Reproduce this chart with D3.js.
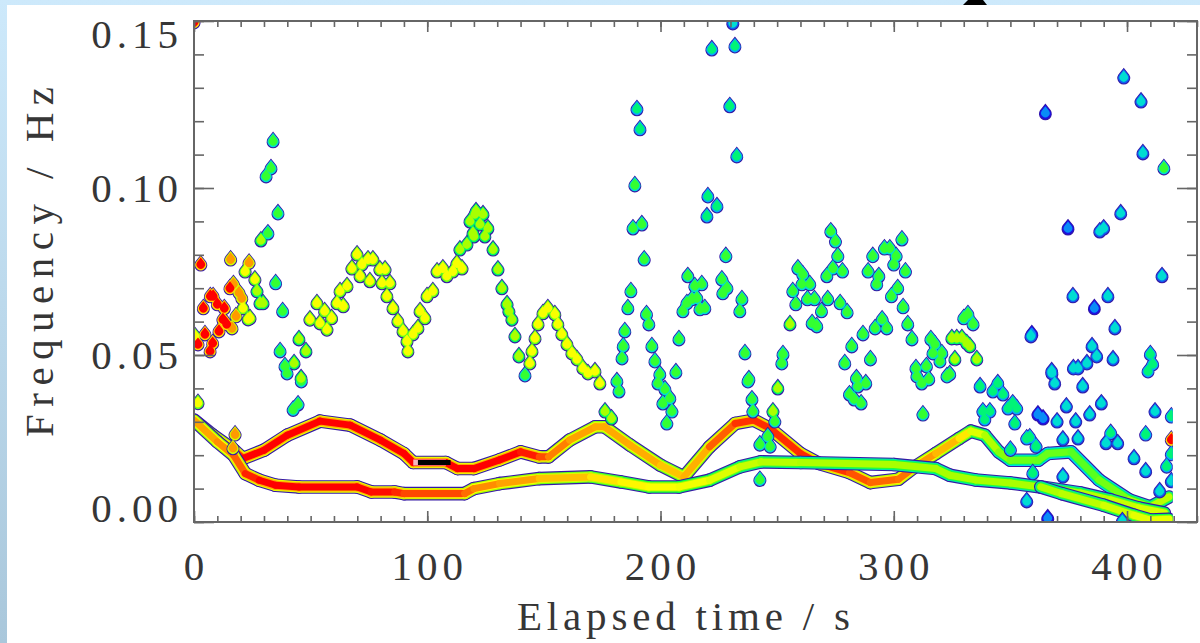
<!DOCTYPE html>
<html>
<head>
<meta charset="utf-8">
<script src="https://cdn.jsdelivr.net/npm/d3@7"></script>
<style>
  body { margin: 0; background: #fff; }
  svg { display: block; }
</style>
</head>
<body>
<svg width="1200" height="643"></svg>
<script>
// axis setup
var xMajor = [0, 100, 200, 300, 400];
var yMajor = [0, 0.05, 0.10, 0.15];
var yLabels = ["0.00", "0.05", "0.10", "0.15"];
var xTitle = "Elapsed time / s";
var yTitle = "Frequency / Hz";
var tEnd = 419.6;

// ridge tracks: [time s, frequency Hz, power 0..1]
var trackA = [[0,0.0305,0.85],[8,0.026,0.88],[17,0.0216,0.93],[21,0.019,1],[30,0.0215,1],[40,0.026,1],
  [54,0.0302,1],[67,0.029,1],[80,0.0245,1],[90,0.0205,1],[94,0.0178,1],[108,0.0178,1],[113,0.016,1],
  [120,0.016,1],[131,0.0186,1],[140,0.021,1],[148,0.0195,0.96],[152,0.0195,0.92],[161,0.0245,0.88],
  [172,0.0285,0.86],[176,0.0285,0.86],[187,0.023,0.86],[200,0.017,0.85],[210,0.0135,0.8],[221,0.0225,0.9],
  [232,0.0295,0.95],[240,0.0305,0.97],[247,0.028,0.96],[260,0.0205,0.97],[268,0.0175,0.97],[281,0.0148,0.95],
  [290,0.0118,0.92],[302,0.0128,0.92],[309,0.0165,0.9],[318,0.0205,0.86],[328,0.025,0.82],[333,0.0272,0.74],
  [339,0.026,0.66],[345,0.021,0.6],[350,0.0185,0.56],[362,0.0185,0.55],[366,0.0205,0.55],[376,0.021,0.55],
  [388,0.0126,0.52],[401,0.0066,0.6],[410,0.0045,0.65],[418,0.0075,0.65]];
var trackB = [[0,0.0305,0.85],[10,0.024,0.88],[17,0.02,0.9],[22,0.0145,0.95],[28,0.0125,1],[35,0.011,1],
  [45,0.0105,1],[70,0.0105,1],[76,0.009,1],[86,0.009,0.98],[90,0.0085,0.96],[116,0.0085,0.93],[120,0.01,0.9],
  [131,0.0115,0.88],[148,0.013,0.86],[170,0.0135,0.8],[183,0.012,0.77],[195,0.0105,0.75],[208,0.0105,0.74],
  [221,0.0125,0.72],[234,0.0165,0.68],[243,0.018,0.65],[260,0.0178,0.63],[300,0.0172,0.62],[318,0.016,0.62],
  [324,0.014,0.62],[335,0.0126,0.62],[350,0.0117,0.62],[363,0.0105,0.62],[380,0.0087,0.63],[393,0.0066,0.65],
  [405,0.0042,0.68],[416,0.0027,0.7]];
var trackC = [[363,0.0105,0.62],[372,0.0085,0.63],[390,0.005,0.66],[403,0.002,0.7],[410,0.0006,0.72],[418,0.0008,0.72]];
var saturated = [[94,0.0178],[108,0.0178]];

// scattered peaks, grouped by power class: [time s, frequency Hz]
var redPts = [[0,0.150],[2.9,0.0775],[7,0.068],[8.2,0.068],[4,0.0644],[10,0.0656],[13,0.0644],[15.4,0.0704],
  [12.4,0.061],[14,0.0596],[10.7,0.0575],[4.7,0.0566],[1.7,0.0536],[8,0.0539],[6.9,0.0515],[419,0.025]];
var orangePts = [[15.7,0.079],[16.9,0.0716],[19.3,0.069],[20.5,0.0674],[16.3,0.0584],[18,0.062],[23.6,0.078],
  [17.6,0.0266],[16.7,0.0225]];
var yellowPts = [[0.4,0.056],[21,0.0644],[21.9,0.0754],[26.1,0.073],[24,0.0614],[23.2,0.0611],[1.7,0.036],
  [52.7,0.0659],[49.7,0.061],[54,0.0599],[56,0.0635],[57,0.058],[59,0.0614],[61.3,0.0659],[62.6,0.0695],
  [64,0.065],[65.6,0.071],[67.7,0.0763],[69.9,0.0805],[72,0.0775],[71.2,0.074],[74.6,0.079],[76.7,0.079],
  [75.4,0.0725],[79.7,0.076],[81.9,0.076],[80.6,0.0719],[84,0.0719],[82.7,0.068],[85.3,0.0644],[87.4,0.0605],
  [89.6,0.0575],[91.3,0.0545],[91.7,0.0515],[93.9,0.0566],[96,0.0584],[96.9,0.0635],[99,0.0614],[99.9,0.068],
  [102.4,0.0695],[104.2,0.0754],[106.7,0.0763],[108.4,0.074],[111,0.0754],[112.7,0.0778],[114.9,0.0763],
  [144,0.0479],[144.9,0.0515],[146.2,0.0554],[147.5,0.0596],[149.6,0.0629],[151.7,0.0644],[154.7,0.0626],
  [156,0.0596],[157.7,0.0566],[159.9,0.0536],[162,0.0509],[164.2,0.0491],[166.7,0.0464],[168.9,0.0449],
  [171.9,0.0455],[174,0.0419]];
var yelGreenPts = [[27,0.0695],[28.3,0.0659],[29.6,0.0659],[28.7,0.0847],[45.9,0.0434],[42.9,0.0479],[45,0.0551],
  [48,0.0515],[114,0.082],[117,0.0835],[118.3,0.0904],[120.4,0.0925],[119.6,0.0868],[120.9,0.0934],[123.9,0.0925],
  [122.6,0.0895],[126,0.0883],[120,0.0859],[124.7,0.0859],[128.2,0.082],[130.3,0.076],[132,0.0704],[134.2,0.0656],
  [135,0.0635],[136.3,0.061],[137.6,0.056],[139.3,0.05],[176.2,0.0335],[179,0.0314],[255.5,0.0596],[250.3,0.0404],
  [248.2,0.0335],[324.9,0.0554],[327,0.0554],[329.2,0.0554],[331.3,0.0539],[332.6,0.053],[326.2,0.0491],[335.6,0.0491]];
var greenPts = [[31.7,0.0868],[36,0.0928],[35,0.0719],[38,0.0635],[36.9,0.0515],[39,0.047],[39.9,0.0449],
  [33.9,0.1144],[33,0.1063],[30.9,0.1039],[42.5,0.034],[44.6,0.0356],[46,0.0425],
  [181.3,0.0425],[182.2,0.0395],[183.5,0.0494],[184,0.053],[184.7,0.0575],[186,0.0644],[187.3,0.0695],[193,0.079],
  [188.2,0.0883],[192,0.0895],[189,0.1012],[194,0.0626],[195,0.0596],[196.3,0.053],[197.6,0.0485],[199.7,0.0446],
  [198.9,0.0419],[201.9,0.0401],[204,0.0374],[201,0.0359],[204.9,0.0335],[202.7,0.0299],[141.9,0.0443],[206.6,0.0452],
  [207.9,0.0551],[209.6,0.0635],[211.3,0.0659],[213.5,0.0671],[215.6,0.0674],[211.7,0.074],[214.7,0.071],
  [217.7,0.0716],[216.9,0.0641],[219,0.0644],[228,0.08],[226.3,0.073],[228.5,0.0704],[226.7,0.0689],[234.9,0.0671],
  [234,0.0635],[236.2,0.0509],[237.9,0.0431],[239.2,0.0371],[239.6,0.0335],[237.5,0.0425],[242.6,0.0236],[246,0.026],
  [247,0.023],[242.6,0.013],[249,0.0305],[252.5,0.0506],[252,0.0479],
  [258.9,0.0763],[256.7,0.0695],[273,0.0874],[275,0.0844],[276,0.08],[273.9,0.0763],[271.3,0.074],[278,0.0754],
  [261,0.0745],[260.6,0.0716],[264,0.0716],[258,0.0656],[263,0.0671],[266,0.0671],[269,0.0635],[271.7,0.0671],
  [277,0.0659],[280,0.0632],[265,0.0599],[267,0.059],[282,0.053],[286.8,0.0566],[279,0.0479],[290,0.0491],
  [292,0.0584],[295,0.061],[297,0.0584],[284,0.0434],[284.6,0.041],[288,0.0419],[281,0.0386],[283,0.0371],
  [286,0.0359],[291,0.08],[296,0.0823],[298.3,0.0823],[301,0.08],[300,0.0775],[303.5,0.085],[289,0.0754],
  [293.6,0.074],[292.7,0.0716],[305,0.0754],[301.7,0.0704],[299,0.068],[304,0.0647],[306,0.0596],[307.8,0.0551],
  [309.5,0.0464],[309.9,0.044],[314,0.047],[315,0.0431],[312,0.0419],[312.5,0.0326],[315.9,0.0551],[317.6,0.0536],
  [316.8,0.0509],[320.6,0.0509],[319.8,0.0485],[322.8,0.044],[324,0.0446],[330,0.0614],[331.8,0.0626],[334,0.0596],
  [415.8,0.1063]];
var cyanGreenPts = [[189.9,0.124],[191.2,0.118],[222,0.1419],[231.9,0.1428],[229.7,0.1249],[232.7,0.1099],
  [220.3,0.0979],[224.2,0.0949],[219.9,0.0919],[337,0.041],[344.6,0.0419],[342.5,0.0395],[346.8,0.0386],
  [351,0.0359],[352.7,0.0344],[349,0.0344],[351.9,0.0299],[338.2,0.0335],[341.2,0.0335],[339,0.0311],[350,0.022],
  [357,0.0254],[358.3,0.0257],[361,0.023],[359.6,0.015],[419,0.0207],[417,0.017],[419,0.032],[393,0.027],
  [408,0.0266],[411,0.0476],[410,0.0506],[409,0.0455]];
var cyanPts = [[231,0.1497],[367.8,0.0449],[369,0.0419],[370,0.0305],[398.6,0.1335],[406,0.1263],[406.8,0.1108],
  [397.3,0.0928],[388.3,0.0874],[390,0.0883],[415,0.074],[376.8,0.068],[391.8,0.068],[394.8,0.0584],[358.8,0.056],
  [385,0.053],[387,0.05],[394,0.0491],[367.7,0.0455],[377,0.0464],[379,0.0464],[382.8,0.0479],[381,0.041],
  [389,0.0359],[374,0.035],[384,0.0326],[412,0.0335],[378,0.0305],[391,0.024],[396,0.024],[379,0.0254],
  [372.5,0.0251],[403,0.0195],[408,0.0156],[372.5,0.014],[357,0.0066],[398,0.0006],[414,0.0096],[419,0.0126]];
var bluePts = [[365,0.1228],[374.7,0.0883],[359.2,0.0566],[386,0.0644],[361.8,0.0326],[364,0.0314],[366,0.0015]];

var groups = [
  { pts: bluePts, p: 0.16 },
  { pts: cyanPts, p: 0.3 },
  { pts: cyanGreenPts, p: 0.4 },
  { pts: greenPts, p: 0.5 },
  { pts: yelGreenPts, p: 0.62 },
  { pts: yellowPts, p: 0.74 },
  { pts: orangePts, p: 0.88 },
  { pts: redPts, p: 1 }
];

var start = function()
{
  var svg = d3.select("svg");
  var x = d3.scaleLinear().domain([0, 430]).range([194, 1197]);
  var y = d3.scaleLinear().domain([0, 0.15]).range([522, 21]);

  var cmap = d3.scaleLinear()
    .domain([0, 0.25, 0.45, 0.6, 0.75, 0.88, 1])
    .range(["#1a10e6", "#00d2ff", "#00ff4a", "#9cff00", "#ffff00", "#ff9a00", "#ff0000"])
    .clamp(true);

  // page background: light blue frame, with the foot of a cut-off heading glyph
  var defs = svg.append("defs");
  var bg = defs.append("linearGradient").attr("id", "bg").attr("x1", 0).attr("y1", 0).attr("x2", 0).attr("y2", 1);
  bg.append("stop").attr("offset", "0").attr("stop-color", "#cde9fb");
  bg.append("stop").attr("offset", "1").attr("stop-color", "#a9c7db");
  svg.append("rect").attr("width", 1200).attr("height", 643).style("fill", "url(#bg)");
  svg.append("path").attr("d", "M968,0 L983,0 L987,5 L963,5 Z").style("fill", "#000");
  svg.append("rect").attr("x", 7).attr("y", 5).attr("width", 1193).attr("height", 638).style("fill", "#fff");

  defs.append("clipPath").attr("id", "plot").append("rect")
    .attr("x", x(0)).attr("y", y(0.15))
    .attr("width", x(tEnd) - x(0)).attr("height", y(0) - y(0.15));

  var plot = svg.append("g").attr("clip-path", "url(#plot)");

  // tracks, drawn in halo layers so overlaps melt together
  var line = d3.line().x(function(d){ return x(d[0]); }).y(function(d){ return y(d[1]); });
  var core = 7;
  [trackA, trackB, trackC].forEach(function(track) {
    var segs = d3.pairs(track);
    [3, 2, 1, 0].forEach(function(k) {
      plot.append("g").selectAll("path").data(segs).enter().append("path")
        .attr("d", function(s){ return line(s); })
        .style("fill", "none")
        .style("stroke", function(s){
          var p = (s[0][2] + s[1][2]) / 2;
          return k == 3 ? "#3518a6" : cmap(p - 0.14 * k);
        })
        .style("stroke-width", core + 2.2 * k)
        .style("stroke-linecap", "round")
        .style("stroke-linejoin", "round");
    });
  });
  plot.append("path").datum(saturated).attr("d", line)
    .style("fill", "none").style("stroke", "#f4b8c0").style("stroke-width", 6);
  plot.append("path").datum(saturated.map(function(d){ return [d[0] + 2, d[1]]; })).attr("d", line)
    .style("fill", "none").style("stroke", "#000").style("stroke-width", 5);

  // drop shaped markers
  var drop = {
    draw: function(ctx, size) {
      var r = Math.sqrt(size / 4);
      ctx.moveTo(0, -1.3 * r);
      ctx.lineTo(r * Math.cos(-0.6), 0.3 * r + r * Math.sin(-0.6));
      ctx.arc(0, 0.3 * r, r, -0.6, Math.PI + 0.6);
      ctx.closePath();
    }
  };
  var layers = [
    { size: 4 * 6.5 * 6.5, color: function(){ return "#3518a6"; } },
    { size: 4 * 5.5 * 5.5, color: function(p){ return cmap(p - 0.2); } },
    { size: 4 * 4.3 * 4.3, color: function(p){ return cmap(p); } }
  ];
  layers.forEach(function(layer) {
    var sym = d3.symbol().type(drop).size(layer.size);
    groups.forEach(function(grp) {
      plot.append("g").selectAll("path").data(grp.pts).enter().append("path")
        .attr("transform", function(d){ return "translate(" + x(d[0]) + "," + y(d[1]) + ")"; })
        .attr("d", sym)
        .style("fill", layer.color(grp.p));
    });
  });

  // frame and ticks
  var axisColor = "#666";
  function style(g) {
    g.select(".domain").remove();
    g.selectAll("line").style("stroke", axisColor).style("stroke-width", 1.6);
  }
  var xMinor = d3.range(0, 431, 10);
  var yMinor = d3.range(0, 0.1501, 0.01);
  svg.append("g").attr("transform", "translate(0," + y(0) + ")")
    .call(d3.axisBottom(x).tickValues(xMinor).tickSize(-6).tickFormat("")).call(style);
  svg.append("g").attr("transform", "translate(0," + y(0) + ")")
    .call(d3.axisBottom(x).tickValues(xMajor).tickSize(-11).tickFormat("")).call(style);
  svg.append("g").attr("transform", "translate(0," + y(0.15) + ")")
    .call(d3.axisTop(x).tickValues(xMinor).tickSize(-6).tickFormat("")).call(style);
  svg.append("g").attr("transform", "translate(0," + y(0.15) + ")")
    .call(d3.axisTop(x).tickValues(xMajor).tickSize(-11).tickFormat("")).call(style);
  svg.append("g").attr("transform", "translate(" + x(0) + ",0)")
    .call(d3.axisLeft(y).tickValues(yMinor).tickSize(-10).tickFormat("")).call(style);
  svg.append("g").attr("transform", "translate(" + x(0) + ",0)")
    .call(d3.axisLeft(y).tickValues(yMajor).tickSize(-20).tickFormat("")).call(style);
  svg.append("g").attr("transform", "translate(" + x(430) + ",0)")
    .call(d3.axisRight(y).tickValues(yMinor).tickSize(-10).tickFormat("")).call(style);
  svg.append("g").attr("transform", "translate(" + x(430) + ",0)")
    .call(d3.axisRight(y).tickValues(yMajor).tickSize(-20).tickFormat("")).call(style);
  svg.append("rect")
    .attr("x", x(0)).attr("y", y(0.15))
    .attr("width", x(430) - x(0)).attr("height", y(0) - y(0.15))
    .style("fill", "none").style("stroke", axisColor).style("stroke-width", 2);

  // labels
  var font = "Liberation Serif";
  var ink = "#363636";
  svg.append("g").selectAll("text").data(xMajor).enter().append("text")
    .text(function(d){ return d; })
    .attr("x", function(d){ return x(d) + 2.5; })
    .attr("y", y(0) + 58)
    .attr("text-anchor", "middle")
    .style("font-family", font).style("font-size", "41px").style("letter-spacing", "5px")
    .style("fill", ink);
  svg.append("g").selectAll("text").data(yMajor).enter().append("text")
    .text(function(d, i){ return yLabels[i]; })
    .attr("x", x(0) - 11)
    .attr("y", function(d){ return y(d) + (d == 0.15 ? 27 : d == 0 ? 0 : 14); })
    .attr("text-anchor", "end")
    .style("font-family", font).style("font-size", "41px").style("letter-spacing", "5px")
    .style("fill", ink);
  svg.append("text").text(xTitle)
    .attr("x", 517).attr("y", 630)
    .attr("textLength", 333).attr("lengthAdjust", "spacing")
    .style("font-family", font).style("font-size", "41px").style("fill", ink);
  svg.append("text").text(yTitle)
    .attr("transform", "translate(53,437) rotate(-90)")
    .attr("textLength", 350).attr("lengthAdjust", "spacing")
    .style("font-family", font).style("font-size", "41px").style("fill", ink);
}

start();
</script>
</body>
</html>
